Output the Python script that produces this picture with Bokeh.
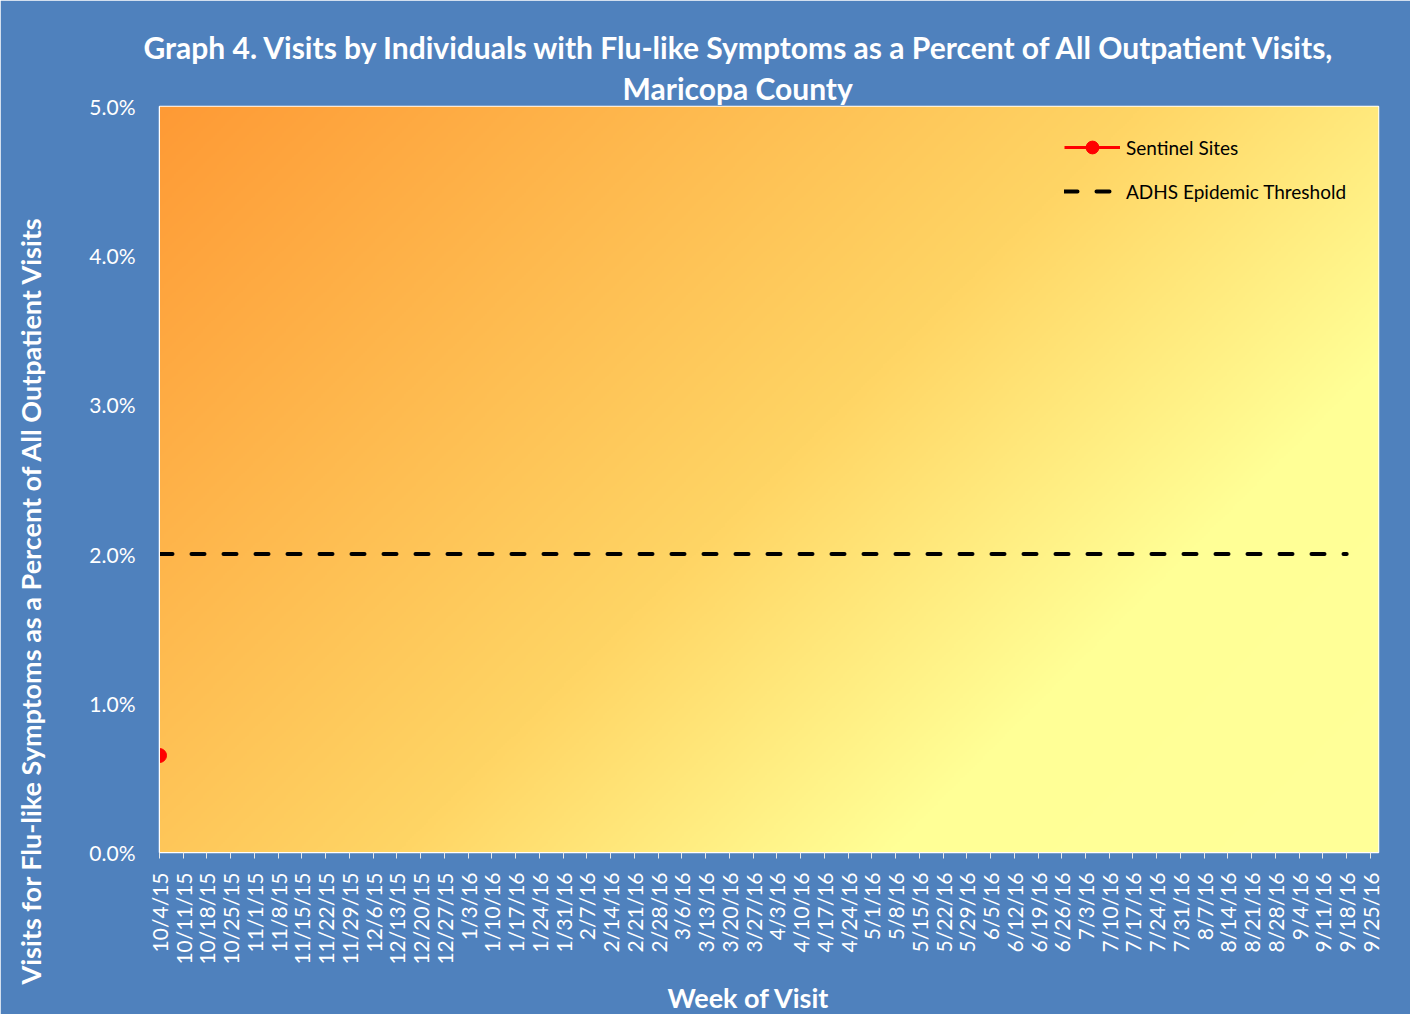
import numpy as np
from math import pi
from bokeh.plotting import figure
from bokeh.models import (Range1d, FixedTicker, PrintfTickFormatter, Title,
                          Legend, LegendItem)
from bokeh.embed import file_html
from bokeh.resources import INLINE

# ---------------- data ----------------
weeks = ["10/4/15", "10/11/15", "10/18/15", "10/25/15", "11/1/15", "11/8/15",
         "11/15/15", "11/22/15", "11/29/15", "12/6/15", "12/13/15", "12/20/15",
         "12/27/15", "1/3/16", "1/10/16", "1/17/16", "1/24/16", "1/31/16",
         "2/7/16", "2/14/16", "2/21/16", "2/28/16", "3/6/16", "3/13/16",
         "3/20/16", "3/27/16", "4/3/16", "4/10/16", "4/17/16", "4/24/16",
         "5/1/16", "5/8/16", "5/15/16", "5/22/16", "5/29/16", "6/5/16",
         "6/12/16", "6/19/16", "6/26/16", "7/3/16", "7/10/16", "7/17/16",
         "7/24/16", "7/31/16", "8/7/16", "8/14/16", "8/21/16", "8/28/16",
         "9/4/16", "9/11/16", "9/18/16", "9/25/16"]
sentinel_weeks = ["10/4/15"]
sentinel_pct = [0.65]
threshold_weeks = weeks[:51]
threshold_pct = [2.0] * 51
y_ticks = [0.0, 1.0, 2.0, 3.0, 4.0, 5.0]

title_line1 = "Graph 4. Visits by Individuals  with Flu-like Symptoms as a Percent of All Outpatient Visits,"
title_line2 = "Maricopa County"
y_label = "Visits for Flu-like Symptoms as a Percent of All Outpatient Visits"
x_label = "Week of Visit"

# ---------------- style ----------------
BLUE = "#4F81BD"
FONT = "Lato"
pos = {w: i for i, w in enumerate(weeks)}
X_END = len(weeks) - 1 + 0.34
Y_END = 5.0

p = figure(width=1410, height=1014, output_backend="svg", toolbar_location=None,
           x_range=Range1d(0, X_END), y_range=Range1d(0, Y_END),
           min_border_left=159, min_border_right=32, min_border_top=106,
           min_border_bottom=162)
p.background_fill_color = BLUE
p.border_fill_color = BLUE
p.outline_line_color = "white"
p.outline_line_width = 1.5
p.xgrid.visible = False
p.ygrid.visible = False

# gradient plot-area background
W_PX, H_PX = 1219.0, 746.0
nx, ny = 600, 400
u = (np.arange(nx) + 0.5) / nx
v = (np.arange(ny) + 0.5) / ny
U, V = np.meshgrid(u, v)
t = (U * W_PX + (1 - V) * H_PX) / (W_PX + H_PX)
stops_t = [0.0, 0.5, 0.75, 1.0]
stops_c = [(254, 154, 53), (255, 213, 101), (255, 255, 150), (255, 255, 153)]
img = np.empty((ny, nx), dtype=np.uint32)
view = img.view(dtype=np.uint8).reshape((ny, nx, 4))
for ch in range(3):
    view[:, :, ch] = np.interp(t, stops_t, [c[ch] for c in stops_c]).astype(np.uint8)
view[:, :, 3] = 255
p.image_rgba(image=[img], x=0, y=0, dw=X_END, dh=Y_END, level="image")

# threshold
thr = p.line([pos[w] for w in threshold_weeks], threshold_pct, line_color="black",
             line_width=4, line_dash="13 19", line_cap="round")
# sentinel
sen_line = p.line([pos[w] for w in sentinel_weeks], sentinel_pct, line_color="#FF0000",
                  line_width=3)
sen_pts = p.scatter([pos[w] for w in sentinel_weeks], sentinel_pct, size=14,
                    fill_color="#FF0000", line_color="#FF0000")

legend = Legend(items=[LegendItem(label="Sentinel Sites", renderers=[sen_line, sen_pts]),
                       LegendItem(label="ADHS Epidemic Threshold", renderers=[thr])],
                location=(905, 645), orientation="vertical",
                background_fill_alpha=0, border_line_alpha=0,
                glyph_width=56, glyph_height=32, spacing=12, padding=0,
                label_standoff=6, label_text_font=FONT, label_text_font_size="19px",
                label_text_color="black", margin=0)
p.add_layout(legend, "center")

# axes
p.xaxis.ticker = FixedTicker(ticks=list(range(len(weeks))))
p.xaxis.major_label_overrides = {i: w for i, w in enumerate(weeks)}
p.xaxis.major_label_orientation = pi / 2
p.xaxis.major_label_text_font = FONT
p.xaxis.major_label_text_font_size = "21px"
p.xaxis.major_label_text_color = "white"
p.xaxis.major_label_standoff = 14
p.xaxis.axis_line_color = "white"
p.xaxis.major_tick_line_color = "#E8E8E8"
p.xaxis.major_tick_out = 6
p.xaxis.major_tick_in = 0
p.xaxis.minor_tick_line_color = None
# spacer label to push the x title outward
p.xaxis.axis_label = " "
p.xaxis.axis_label_text_font_size = "8px"
p.xaxis.axis_label_standoff = 0

p.yaxis.ticker = FixedTicker(ticks=y_ticks)
p.yaxis.formatter = PrintfTickFormatter(format="%.1f%%")
p.yaxis.major_label_text_font = FONT
p.yaxis.major_label_text_font_size = "21px"
p.yaxis.major_label_text_color = "white"
p.yaxis.major_label_standoff = 24
p.yaxis.axis_line_color = "white"
p.yaxis.major_tick_line_color = None
p.yaxis.major_tick_out = 0
p.yaxis.major_tick_in = 0
p.yaxis.minor_tick_line_color = None
# spacer label to push the y title outward
p.yaxis.axis_label = " "
p.yaxis.axis_label_text_font_size = "21px"
p.yaxis.axis_label_standoff = 13

def title(text, side, size, offset, standoff, valign="middle"):
    p.add_layout(Title(text=text, align="left", offset=offset, standoff=standoff,
                       vertical_align=valign, text_font=FONT,
                       text_font_style="bold", text_font_size=size,
                       text_color="white"), side)

title(title_line2, "above", "30px", 463, 0)
title(title_line1, "above", "30px", -16, 6)
title(y_label, "left", "27px", -132, 0)
title(x_label, "below", "27px", 508, 0)

open("out.html", "w").write(file_html(p, INLINE))
